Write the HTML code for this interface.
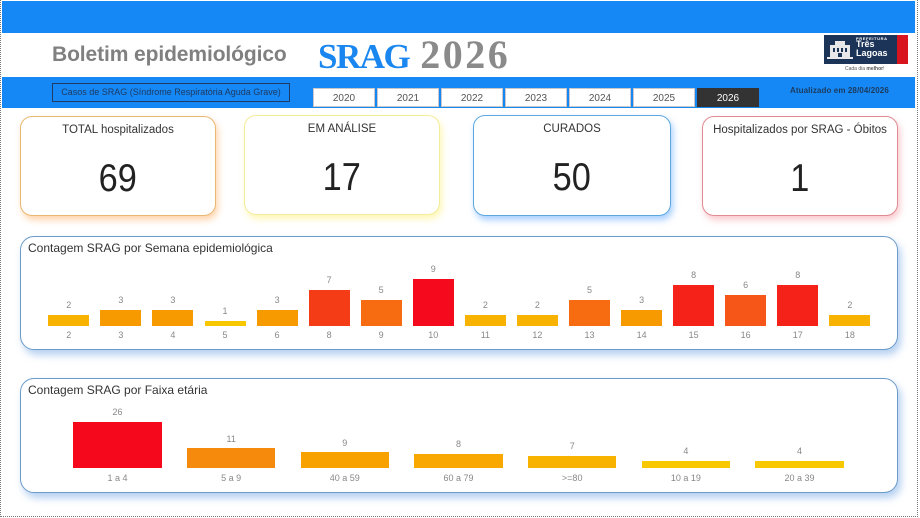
<!DOCTYPE html>
<html><head><meta charset="utf-8">
<style>
*{margin:0;padding:0;box-sizing:border-box}
body{width:920px;height:518px;background:#fff;position:relative;overflow:hidden;font-family:"Liberation Sans",sans-serif}
.abs{position:absolute}
.frame{position:absolute;left:0;top:0;width:918px;height:517px;border-left:1px dotted #777;border-right:1px dotted #777;border-bottom:1px dotted #777}
.topbar{left:2px;top:1px;width:913px;height:32px;background:#1688f5}
.band{left:2px;top:77px;width:913px;height:31px;background:#1688f5}
.title{left:52px;top:43px;font-size:21px;font-weight:bold;color:#808080;letter-spacing:-0.1px;white-space:nowrap}
.srag{left:318px;top:31px;font-family:"Liberation Serif",serif;font-weight:bold;white-space:nowrap}
.casos{left:52px;top:83px;width:238px;height:19px;border:1.5px solid #1e3c66;font-size:9px;color:#1e3a62;text-align:center;line-height:16px;white-space:nowrap}
.yr{position:absolute;top:88px;width:62px;height:19px;background:#fff;border:1px solid #c8c8c8;font-size:10px;color:#555;text-align:center;line-height:19px}
.yr.on{background:#333;color:#fff;border-color:#333}
.upd{left:790px;top:86px;font-size:8px;font-weight:bold;color:#1c3a5c;white-space:nowrap;letter-spacing:0.1px}
.card{position:absolute;background:#fff;border-radius:12px;border:1px solid}
.card .t{position:absolute;left:0;right:0;top:7px;text-align:center;font-size:11.5px;color:#333;white-space:nowrap}
.card .v{position:absolute;left:0;right:0;top:40px;text-align:center;font-size:39px;color:#222;line-height:44px}
.card .v span{display:inline-block;transform:scaleX(0.88)}
.chart{position:absolute;left:20px;width:878px;background:#fff;border:1.5px solid #6b9bc9;border-radius:14px;box-shadow:3px 5px 8px rgba(90,150,225,0.45)}
.ct{position:absolute;left:7px;top:4px;font-size:12px;color:#333;white-space:nowrap}
.b{position:absolute;width:41px;bottom:192.3px}
.b i,.b u,.c i,.c u{position:absolute;left:-10px;right:-10px;text-align:center;font-style:normal;text-decoration:none;font-size:9px;line-height:12px;color:#888}
.b i{top:-16px}
.b u{bottom:-15px}
.c{position:absolute;width:88.4px;bottom:50px}
.c i{top:-15.5px}
.c u{bottom:-15.5px}
</style></head><body>
<div class="frame"></div>
<div class="abs topbar"></div>
<div class="abs title">Boletim epidemiológico</div>
<div class="abs srag"><span style="font-size:35px;color:#1a86ef;letter-spacing:-1.5px">SRAG</span> <span style="font-size:40px;color:#8a8a8a;letter-spacing:2.5px;margin-left:7px">2026</span></div>

<!-- logo -->
<div class="abs" style="left:824px;top:35px;width:73px;height:29px;background:#1c3457"></div>
<div class="abs" style="left:897px;top:35px;width:11px;height:29px;background:#d8141e"></div>
<svg class="abs" style="left:827px;top:39px" width="26" height="22" viewBox="0 0 26 22">
<g fill="#e8e8e8"><rect x="3" y="6" width="20" height="12"/><rect x="8" y="2" width="10" height="5"/><rect x="0" y="18" width="26" height="2"/></g>
<g fill="#1c3457"><rect x="6" y="9" width="2" height="4"/><rect x="10" y="9" width="2" height="4"/><rect x="14" y="9" width="2" height="4"/><rect x="18" y="9" width="2" height="4"/><rect x="11" y="14" width="4" height="4"/></g>
</svg>
<div class="abs" style="left:856px;top:36px;font-size:4px;font-weight:bold;color:#fff;letter-spacing:0.6px">PREFEITURA</div>
<div class="abs" style="left:856px;top:40px;font-size:9px;font-weight:bold;color:#fff;line-height:9px">Três<br>Lagoas</div>
<div class="abs" style="left:845px;top:66px;font-size:5px;color:#555;white-space:nowrap">Cada dia <b>melhor</b>!</div>

<div class="abs band"></div>
<div class="abs casos">Casos de SRAG (Síndrome Respiratória Aguda Grave)</div>
<div class="yr" style="left:313px">2020</div>
<div class="yr" style="left:377px">2021</div>
<div class="yr" style="left:441px">2022</div>
<div class="yr" style="left:505px">2023</div>
<div class="yr" style="left:569px">2024</div>
<div class="yr" style="left:633px">2025</div>
<div class="yr on" style="left:697px">2026</div>
<div class="abs upd">Atualizado em 28/04/2026</div>

<div class="card" style="left:20px;top:116px;width:196px;height:100px;border-color:#e9b870;box-shadow:2px 4px 7px rgba(255,160,70,0.45)"><div class="t">TOTAL hospitalizados</div><div class="v"><span>69</span></div></div>
<div class="card" style="left:244px;top:115px;width:196px;height:100px;border-color:#f3ec9a;box-shadow:2px 4px 7px rgba(255,235,90,0.45)"><div class="t">EM ANÁLISE</div><div class="v"><span>17</span></div></div>
<div class="card" style="left:473px;top:115px;width:198px;height:101px;border-color:#5ea8df;box-shadow:2px 4px 7px rgba(80,160,255,0.5)"><div class="t">CURADOS</div><div class="v"><span>50</span></div></div>
<div class="card" style="left:702px;top:116px;width:196px;height:100px;border-color:#e08b93;box-shadow:2px 4px 7px rgba(240,120,130,0.4)"><div class="t">Hospitalizados por SRAG - Óbitos</div><div class="v"><span>1</span></div></div>

<div class="chart" style="top:236px;height:114px"><div class="ct">Contagem SRAG por Semana epidemiológica</div></div>
<div class="chart" style="top:378px;height:115px"><div class="ct">Contagem SRAG por Faixa etária</div></div>

<div class="b" style="left:48.3px;height:10.3px;background:#f7b300"><i>2</i><u>2</u></div>
<div class="b" style="left:100.4px;height:15.45px;background:#f79a00"><i>3</i><u>3</u></div>
<div class="b" style="left:152.4px;height:15.45px;background:#f79a00"><i>3</i><u>4</u></div>
<div class="b" style="left:204.5px;height:5.15px;background:#f7c800"><i>1</i><u>5</u></div>
<div class="b" style="left:256.6px;height:15.45px;background:#f79a00"><i>3</i><u>6</u></div>
<div class="b" style="left:308.7px;height:36.05px;background:#f43c16"><i>7</i><u>8</u></div>
<div class="b" style="left:360.7px;height:25.75px;background:#f76c10"><i>5</i><u>9</u></div>
<div class="b" style="left:412.8px;height:46.35px;background:#f5091d"><i>9</i><u>10</u></div>
<div class="b" style="left:464.9px;height:10.3px;background:#f7b300"><i>2</i><u>11</u></div>
<div class="b" style="left:516.9px;height:10.3px;background:#f7b300"><i>2</i><u>12</u></div>
<div class="b" style="left:569px;height:25.75px;background:#f76c10"><i>5</i><u>13</u></div>
<div class="b" style="left:621.1px;height:15.45px;background:#f79a00"><i>3</i><u>14</u></div>
<div class="b" style="left:673.1px;height:41.2px;background:#f52219"><i>8</i><u>15</u></div>
<div class="b" style="left:725.2px;height:30.9px;background:#f65618"><i>6</i><u>16</u></div>
<div class="b" style="left:777.3px;height:41.2px;background:#f52219"><i>8</i><u>17</u></div>
<div class="b" style="left:829.4px;height:10.3px;background:#f7b300"><i>2</i><u>18</u></div>

<div class="c" style="left:73.3px;height:46.3px;background:#f5081c"><i>26</i><u>1 a 4</u></div>
<div class="c" style="left:187px;height:19.6px;background:#f68a0c"><i>11</i><u>5 a 9</u></div>
<div class="c" style="left:300.6px;height:16px;background:#f8a200"><i>9</i><u>40 a 59</u></div>
<div class="c" style="left:414.3px;height:14.2px;background:#f8a800"><i>8</i><u>60 a 79</u></div>
<div class="c" style="left:528px;height:12.5px;background:#f8b200"><i>7</i><u>&gt;=80</u></div>
<div class="c" style="left:641.7px;height:7.1px;background:#f8c800"><i>4</i><u>10 a 19</u></div>
<div class="c" style="left:755.3px;height:7.1px;background:#f8c800"><i>4</i><u>20 a 39</u></div>
</body></html>
